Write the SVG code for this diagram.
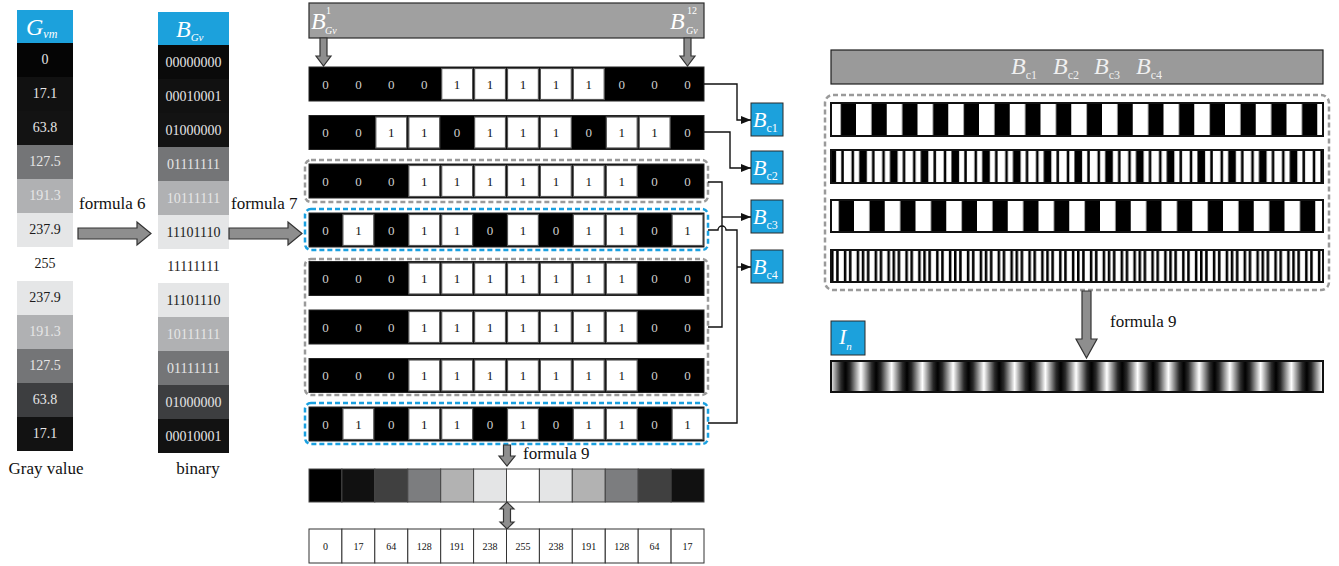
<svg xmlns="http://www.w3.org/2000/svg" width="1339" height="566" viewBox="0 0 1339 566">
<style>
text{font-family:"Liberation Serif","Times New Roman",serif}
.it{font-style:italic}
.cv{font-size:14px;text-anchor:middle}
.lt{fill:#e6e6e6}
.dk{fill:#1a1a1a}
.lbl{font-size:17px;fill:#111}
.bit{font-size:13px;text-anchor:middle}
.z{fill:#cfcfcf}
.o{fill:#111}
.row{fill:#000;stroke:#222;stroke-width:1}
.w{fill:#fff;stroke:#555;stroke-width:1.2}
.blue{fill:#1ca1dc;stroke:#2a2a2a;stroke-width:1}
.garrow{fill:#8e8e8e;stroke:#333;stroke-width:1.2}
.dg{fill:none;stroke:#9a9a9a;stroke-width:2.5;stroke-dasharray:5 3}
.db{fill:none;stroke:#1aa0e0;stroke-width:2.5;stroke-dasharray:5 3}
.conn{fill:none;stroke:#111;stroke-width:1.4}
.num{font-size:10px;text-anchor:middle;fill:#111}
.nc{fill:#fff;stroke:#333;stroke-width:1}
.gc{stroke:#444;stroke-width:1}
</style>
<defs>
<marker id="ah" markerWidth="10" markerHeight="8" refX="10" refY="4" orient="auto" markerUnits="userSpaceOnUse"><path d="M0,0 L10,4 L0,8 z" fill="#111"/></marker>
<pattern id="p1" patternUnits="userSpaceOnUse" x="825.25" y="0" width="30.75" height="566"><rect width="30.75" height="566" fill="#000"/><rect x="0" width="15.5" height="566" fill="#fff"/></pattern>
<pattern id="p3" patternUnits="userSpaceOnUse" x="823.25" y="0" width="30.75" height="566"><rect width="30.75" height="566" fill="#000"/><rect x="0" width="15.5" height="566" fill="#fff"/></pattern>
<pattern id="p2" patternUnits="userSpaceOnUse" x="831" y="0" width="30.75" height="566"><rect width="30.75" height="566" fill="#000"/><rect x="5.125" width="5.125" height="566" fill="#fff"/><rect x="12.81" width="7.69" height="566" fill="#fff"/><rect x="23.06" width="5.125" height="566" fill="#fff"/></pattern>
<pattern id="p4" patternUnits="userSpaceOnUse" x="831" y="0" width="30.75" height="566"><rect width="30.75" height="566" fill="#000"/><rect x="2.56" width="2.56" height="566" fill="#fff"/><rect x="7.69" width="5.125" height="566" fill="#fff"/><rect x="15.375" width="2.56" height="566" fill="#fff"/><rect x="20.5" width="5.125" height="566" fill="#fff"/><rect x="28.19" width="2.56" height="566" fill="#fff"/></pattern>
<linearGradient id="sg" x1="0" x2="1" y1="0" y2="0"><stop offset="0" stop-color="#000"/><stop offset="0.15" stop-color="#2a2a2a"/><stop offset="0.5" stop-color="#fff"/><stop offset="0.85" stop-color="#2a2a2a"/><stop offset="1" stop-color="#000"/></linearGradient>
<pattern id="pg" patternUnits="userSpaceOnUse" x="845.5" y="0" width="30.75" height="566"><rect width="30.75" height="566" fill="url(#sg)"/></pattern>
</defs>

<!-- Column 1: gray values -->
<g id="col-gray">
<rect x="17" y="10" width="56" height="33" fill="#1ca1dc"/>
<text x="26" y="35" class="it" font-size="24" fill="#fff">G<tspan font-size="12" dy="3">vm</tspan></text>
<rect x="17" y="43" width="56" height="34" fill="#050505"/>
<rect x="17" y="77" width="56" height="34" fill="#111"/>
<rect x="17" y="111" width="56" height="34" fill="#131313"/>
<rect x="17" y="145" width="56" height="34" fill="#747577"/>
<rect x="17" y="179" width="56" height="34" fill="#b0b1b3"/>
<rect x="17" y="213" width="56" height="34" fill="#e5e6e7"/>
<rect x="17" y="281" width="56" height="34" fill="#e5e6e7"/>
<rect x="17" y="315" width="56" height="34" fill="#b0b1b3"/>
<rect x="17" y="349" width="56" height="34" fill="#747577"/>
<rect x="17" y="383" width="56" height="34" fill="#3d3e40"/>
<rect x="17" y="417" width="56" height="34" fill="#121212"/>
<text x="45" y="64" class="cv lt">0</text>
<text x="45" y="98" class="cv lt">17.1</text>
<text x="45" y="132" class="cv lt">63.8</text>
<text x="45" y="166" class="cv lt">127.5</text>
<text x="45" y="200" class="cv lt">191.3</text>
<text x="45" y="234" class="cv dk">237.9</text>
<text x="45" y="268" class="cv dk">255</text>
<text x="45" y="302" class="cv dk">237.9</text>
<text x="45" y="336" class="cv lt">191.3</text>
<text x="45" y="370" class="cv lt">127.5</text>
<text x="45" y="404" class="cv lt">63.8</text>
<text x="45" y="438" class="cv lt">17.1</text>
<text x="46" y="474" class="lbl" text-anchor="middle">Gray value</text>
</g>

<!-- Column 2: binary -->
<g id="col-binary">
<rect x="158" y="12" width="71" height="33" fill="#1ca1dc"/>
<text x="176" y="37" class="it" font-size="24" fill="#fff">B<tspan font-size="11" dy="4">Gv</tspan></text>
<rect x="158" y="45" width="71" height="34" fill="#0a0a0a"/>
<rect x="158" y="79" width="71" height="34" fill="#111"/>
<rect x="158" y="113" width="71" height="34" fill="#131313"/>
<rect x="158" y="147" width="71" height="34" fill="#747577"/>
<rect x="158" y="181" width="71" height="34" fill="#b0b1b3"/>
<rect x="158" y="215" width="71" height="34" fill="#e5e6e7"/>
<rect x="158" y="283" width="71" height="34" fill="#e5e6e7"/>
<rect x="158" y="317" width="71" height="34" fill="#b0b1b3"/>
<rect x="158" y="351" width="71" height="34" fill="#747577"/>
<rect x="158" y="385" width="71" height="34" fill="#3d3e40"/>
<rect x="158" y="419" width="71" height="34" fill="#121212"/>
<text x="193.5" y="67" class="cv lt">00000000</text>
<text x="193.5" y="101" class="cv lt">00010001</text>
<text x="193.5" y="135" class="cv lt">01000000</text>
<text x="193.5" y="169" class="cv lt">01111111</text>
<text x="193.5" y="203" class="cv lt">10111111</text>
<text x="193.5" y="237" class="cv dk">11101110</text>
<text x="193.5" y="271" class="cv dk">11111111</text>
<text x="193.5" y="305" class="cv dk">11101110</text>
<text x="193.5" y="339" class="cv lt">10111111</text>
<text x="193.5" y="373" class="cv lt">01111111</text>
<text x="193.5" y="407" class="cv lt">01000000</text>
<text x="193.5" y="441" class="cv lt">00010001</text>
<text x="198" y="474" class="lbl" text-anchor="middle">binary</text>
</g>

<!-- formula arrows -->
<g id="formula6">
<text x="79" y="209" class="lbl">formula 6</text>
<polygon class="garrow" points="78,228 137,228 137,222 151,233.5 137,245 137,239 78,239"/>
</g>
<g id="formula7">
<text x="231" y="209" class="lbl">formula 7</text>
<polygon class="garrow" points="229,228 288,228 288,222 302,233.5 288,245 288,239 229,239"/>
</g>

<!-- top BGv bar -->
<g id="bgv-bar">
<rect x="309" y="3" width="395" height="35" fill="#a0a0a0" stroke="#2a2a2a" stroke-width="1.2"/>
<text x="311" y="29" class="it" font-size="24" fill="#fff">B</text>
<text x="326" y="14" font-size="10" fill="#fff">1</text>
<text x="325" y="34" class="it" font-size="10" fill="#fff">Gv</text>
<text x="670" y="29" class="it" font-size="24" fill="#fff">B</text>
<text x="687" y="14" font-size="10" fill="#fff">12</text>
<text x="686" y="34" class="it" font-size="10" fill="#fff">Gv</text>
<polygon class="garrow" points="320,38 327,38 327,56 331,56 323.5,66 316,56 320,56"/>
<polygon class="garrow" points="684,38 691,38 691,56 695,56 687.5,66 680,56 684,56"/>
</g>

<!-- Bit rows -->
<g id="row1">
<rect class="row" x="309" y="67" width="395" height="34"/>
<rect class="w" x="441.7" y="68.5" width="30.9" height="31"/><rect class="w" x="474.6" y="68.5" width="30.9" height="31"/><rect class="w" x="507.5" y="68.5" width="30.9" height="31"/><rect class="w" x="540.4" y="68.5" width="30.9" height="31"/><rect class="w" x="573.3" y="68.5" width="30.9" height="31"/>
<text class="bit z" x="325.5" y="88.5">0</text><text class="bit z" x="358.4" y="88.5">0</text><text class="bit z" x="391.3" y="88.5">0</text><text class="bit z" x="424.2" y="88.5">0</text><text class="bit o" x="457.1" y="88.5">1</text><text class="bit o" x="490" y="88.5">1</text><text class="bit o" x="523" y="88.5">1</text><text class="bit o" x="555.9" y="88.5">1</text><text class="bit o" x="588.8" y="88.5">1</text><text class="bit z" x="621.7" y="88.5">0</text><text class="bit z" x="654.6" y="88.5">0</text><text class="bit z" x="687.5" y="88.5">0</text>
</g>
<g id="row2">
<rect class="row" x="309" y="115.5" width="395" height="34"/>
<rect class="w" x="375.8" y="117" width="30.9" height="31"/><rect class="w" x="408.8" y="117" width="30.9" height="31"/><rect class="w" x="474.6" y="117" width="30.9" height="31"/><rect class="w" x="507.5" y="117" width="30.9" height="31"/><rect class="w" x="540.4" y="117" width="30.9" height="31"/><rect class="w" x="606.3" y="117" width="30.9" height="31"/><rect class="w" x="639.2" y="117" width="30.9" height="31"/>
<text class="bit z" x="325.5" y="137">0</text><text class="bit z" x="358.4" y="137">0</text><text class="bit o" x="391.3" y="137">1</text><text class="bit o" x="424.2" y="137">1</text><text class="bit z" x="457.1" y="137">0</text><text class="bit o" x="490" y="137">1</text><text class="bit o" x="523" y="137">1</text><text class="bit o" x="555.9" y="137">1</text><text class="bit z" x="588.8" y="137">0</text><text class="bit o" x="621.7" y="137">1</text><text class="bit o" x="654.6" y="137">1</text><text class="bit z" x="687.5" y="137">0</text>
</g>
<g id="row3">
<rect class="row" x="309" y="164" width="395" height="34"/>
<rect class="w" x="408.8" y="165.5" width="30.9" height="31"/><rect class="w" x="441.7" y="165.5" width="30.9" height="31"/><rect class="w" x="474.6" y="165.5" width="30.9" height="31"/><rect class="w" x="507.5" y="165.5" width="30.9" height="31"/><rect class="w" x="540.4" y="165.5" width="30.9" height="31"/><rect class="w" x="573.3" y="165.5" width="30.9" height="31"/><rect class="w" x="606.3" y="165.5" width="30.9" height="31"/>
<text class="bit z" x="325.5" y="185.5">0</text><text class="bit z" x="358.4" y="185.5">0</text><text class="bit z" x="391.3" y="185.5">0</text><text class="bit o" x="424.2" y="185.5">1</text><text class="bit o" x="457.1" y="185.5">1</text><text class="bit o" x="490" y="185.5">1</text><text class="bit o" x="523" y="185.5">1</text><text class="bit o" x="555.9" y="185.5">1</text><text class="bit o" x="588.8" y="185.5">1</text><text class="bit o" x="621.7" y="185.5">1</text><text class="bit z" x="654.6" y="185.5">0</text><text class="bit z" x="687.5" y="185.5">0</text>
</g>
<g id="row4">
<rect class="row" x="309" y="213" width="395" height="34"/>
<rect class="w" x="342.9" y="214.5" width="30.9" height="31"/><rect class="w" x="408.8" y="214.5" width="30.9" height="31"/><rect class="w" x="441.7" y="214.5" width="30.9" height="31"/><rect class="w" x="507.5" y="214.5" width="30.9" height="31"/><rect class="w" x="573.3" y="214.5" width="30.9" height="31"/><rect class="w" x="606.3" y="214.5" width="30.9" height="31"/><rect class="w" x="672.1" y="214.5" width="30.9" height="31"/>
<text class="bit z" x="325.5" y="234.5">0</text><text class="bit o" x="358.4" y="234.5">1</text><text class="bit z" x="391.3" y="234.5">0</text><text class="bit o" x="424.2" y="234.5">1</text><text class="bit o" x="457.1" y="234.5">1</text><text class="bit z" x="490" y="234.5">0</text><text class="bit o" x="523" y="234.5">1</text><text class="bit z" x="555.9" y="234.5">0</text><text class="bit o" x="588.8" y="234.5">1</text><text class="bit o" x="621.7" y="234.5">1</text><text class="bit z" x="654.6" y="234.5">0</text><text class="bit o" x="687.5" y="234.5">1</text>
</g>
<g id="row5">
<rect class="row" x="309" y="261.5" width="395" height="34"/>
<rect class="w" x="408.8" y="263" width="30.9" height="31"/><rect class="w" x="441.7" y="263" width="30.9" height="31"/><rect class="w" x="474.6" y="263" width="30.9" height="31"/><rect class="w" x="507.5" y="263" width="30.9" height="31"/><rect class="w" x="540.4" y="263" width="30.9" height="31"/><rect class="w" x="573.3" y="263" width="30.9" height="31"/><rect class="w" x="606.3" y="263" width="30.9" height="31"/>
<text class="bit z" x="325.5" y="283">0</text><text class="bit z" x="358.4" y="283">0</text><text class="bit z" x="391.3" y="283">0</text><text class="bit o" x="424.2" y="283">1</text><text class="bit o" x="457.1" y="283">1</text><text class="bit o" x="490" y="283">1</text><text class="bit o" x="523" y="283">1</text><text class="bit o" x="555.9" y="283">1</text><text class="bit o" x="588.8" y="283">1</text><text class="bit o" x="621.7" y="283">1</text><text class="bit z" x="654.6" y="283">0</text><text class="bit z" x="687.5" y="283">0</text>
</g>
<g id="row6">
<rect class="row" x="309" y="310" width="395" height="34"/>
<rect class="w" x="408.8" y="311.5" width="30.9" height="31"/><rect class="w" x="441.7" y="311.5" width="30.9" height="31"/><rect class="w" x="474.6" y="311.5" width="30.9" height="31"/><rect class="w" x="507.5" y="311.5" width="30.9" height="31"/><rect class="w" x="540.4" y="311.5" width="30.9" height="31"/><rect class="w" x="573.3" y="311.5" width="30.9" height="31"/><rect class="w" x="606.3" y="311.5" width="30.9" height="31"/>
<text class="bit z" x="325.5" y="331.5">0</text><text class="bit z" x="358.4" y="331.5">0</text><text class="bit z" x="391.3" y="331.5">0</text><text class="bit o" x="424.2" y="331.5">1</text><text class="bit o" x="457.1" y="331.5">1</text><text class="bit o" x="490" y="331.5">1</text><text class="bit o" x="523" y="331.5">1</text><text class="bit o" x="555.9" y="331.5">1</text><text class="bit o" x="588.8" y="331.5">1</text><text class="bit o" x="621.7" y="331.5">1</text><text class="bit z" x="654.6" y="331.5">0</text><text class="bit z" x="687.5" y="331.5">0</text>
</g>
<g id="row7">
<rect class="row" x="309" y="358.5" width="395" height="34"/>
<rect class="w" x="408.8" y="360" width="30.9" height="31"/><rect class="w" x="441.7" y="360" width="30.9" height="31"/><rect class="w" x="474.6" y="360" width="30.9" height="31"/><rect class="w" x="507.5" y="360" width="30.9" height="31"/><rect class="w" x="540.4" y="360" width="30.9" height="31"/><rect class="w" x="573.3" y="360" width="30.9" height="31"/><rect class="w" x="606.3" y="360" width="30.9" height="31"/>
<text class="bit z" x="325.5" y="380">0</text><text class="bit z" x="358.4" y="380">0</text><text class="bit z" x="391.3" y="380">0</text><text class="bit o" x="424.2" y="380">1</text><text class="bit o" x="457.1" y="380">1</text><text class="bit o" x="490" y="380">1</text><text class="bit o" x="523" y="380">1</text><text class="bit o" x="555.9" y="380">1</text><text class="bit o" x="588.8" y="380">1</text><text class="bit o" x="621.7" y="380">1</text><text class="bit z" x="654.6" y="380">0</text><text class="bit z" x="687.5" y="380">0</text>
</g>
<g id="row8">
<rect class="row" x="309" y="407" width="395" height="34"/>
<rect class="w" x="342.9" y="408.5" width="30.9" height="31"/><rect class="w" x="408.8" y="408.5" width="30.9" height="31"/><rect class="w" x="441.7" y="408.5" width="30.9" height="31"/><rect class="w" x="507.5" y="408.5" width="30.9" height="31"/><rect class="w" x="573.3" y="408.5" width="30.9" height="31"/><rect class="w" x="606.3" y="408.5" width="30.9" height="31"/><rect class="w" x="672.1" y="408.5" width="30.9" height="31"/>
<text class="bit z" x="325.5" y="428.5">0</text><text class="bit o" x="358.4" y="428.5">1</text><text class="bit z" x="391.3" y="428.5">0</text><text class="bit o" x="424.2" y="428.5">1</text><text class="bit o" x="457.1" y="428.5">1</text><text class="bit z" x="490" y="428.5">0</text><text class="bit o" x="523" y="428.5">1</text><text class="bit z" x="555.9" y="428.5">0</text><text class="bit o" x="588.8" y="428.5">1</text><text class="bit o" x="621.7" y="428.5">1</text><text class="bit z" x="654.6" y="428.5">0</text><text class="bit o" x="687.5" y="428.5">1</text>
</g>

<!-- dashed grouping boxes -->
<g id="groups">
<rect class="dg" x="305" y="160" width="403" height="42" rx="6"/>
<rect class="db" x="305" y="209" width="403" height="41" rx="6"/>
<rect class="dg" x="305" y="259" width="403" height="136" rx="6"/>
<rect class="db" x="305" y="403" width="403" height="41" rx="6"/>
</g>

<!-- Bc boxes -->
<g id="bc1"><rect class="blue" x="751" y="103" width="32" height="33"/><text x="753" y="127" class="it" font-size="22" fill="#fff">B<tspan font-style="normal" font-size="12" dy="5">c1</tspan></text></g>
<g id="bc2"><rect class="blue" x="751" y="151" width="32" height="33"/><text x="753" y="175" class="it" font-size="22" fill="#fff">B<tspan font-style="normal" font-size="12" dy="5">c2</tspan></text></g>
<g id="bc3"><rect class="blue" x="751" y="200" width="32" height="33"/><text x="753" y="224" class="it" font-size="22" fill="#fff">B<tspan font-style="normal" font-size="12" dy="5">c3</tspan></text></g>
<g id="bc4"><rect class="blue" x="751" y="250" width="32" height="33"/><text x="753" y="274" class="it" font-size="22" fill="#fff">B<tspan font-style="normal" font-size="12" dy="5">c4</tspan></text></g>

<!-- connectors -->
<g id="connectors">
<path class="conn" d="M704,84 H737 V120 H751" marker-end="url(#ah)"/>
<path class="conn" d="M704,132 H730 V168 H751" marker-end="url(#ah)"/>
<path class="conn" d="M708,182 H722 V327 H708"/>
<path class="conn" d="M722,217 H751" marker-end="url(#ah)"/>
<path class="conn" d="M708,230 H718 A4,4 0 0 1 726,230 H737 V423 H708"/>
<path class="conn" d="M737,267 H751" marker-end="url(#ah)"/>
</g>

<!-- formula 9 and gray result -->
<g id="formula9-mid">
<polygon class="garrow" points="503.5,445 510.5,445 510.5,456 515,456 507,466 499,456 503.5,456"/>
<text x="523" y="459" class="lbl">formula 9</text>
</g>
<g id="gray-row">
<rect class="gc" x="309" y="469" width="32.9" height="33" fill="#000"/>
<rect class="gc" x="341.9" y="469" width="32.9" height="33" fill="#111"/>
<rect class="gc" x="374.8" y="469" width="32.9" height="33" fill="#404040"/>
<rect class="gc" x="407.8" y="469" width="32.9" height="33" fill="#7c7d7f"/>
<rect class="gc" x="440.7" y="469" width="32.9" height="33" fill="#b2b2b2"/>
<rect class="gc" x="473.6" y="469" width="32.9" height="33" fill="#e4e5e6"/>
<rect class="gc" x="506.5" y="469" width="32.9" height="33" fill="#fff"/>
<rect class="gc" x="539.4" y="469" width="32.9" height="33" fill="#e4e5e6"/>
<rect class="gc" x="572.3" y="469" width="32.9" height="33" fill="#b2b2b2"/>
<rect class="gc" x="605.3" y="469" width="32.9" height="33" fill="#7c7d7f"/>
<rect class="gc" x="638.2" y="469" width="32.9" height="33" fill="#404040"/>
<rect class="gc" x="671.1" y="469" width="32.9" height="33" fill="#111"/>
</g>
<g id="double-arrow">
<polygon class="garrow" points="507,502 514,509 510.5,509 510.5,522 514,522 507,529 500,522 503.5,522 503.5,509 500,509"/>
</g>
<g id="value-row">
<rect class="nc" x="309" y="529" width="32.9" height="34"/><rect class="nc" x="341.9" y="529" width="32.9" height="34"/><rect class="nc" x="374.8" y="529" width="32.9" height="34"/><rect class="nc" x="407.8" y="529" width="32.9" height="34"/><rect class="nc" x="440.7" y="529" width="32.9" height="34"/><rect class="nc" x="473.6" y="529" width="32.9" height="34"/><rect class="nc" x="506.5" y="529" width="32.9" height="34"/><rect class="nc" x="539.4" y="529" width="32.9" height="34"/><rect class="nc" x="572.3" y="529" width="32.9" height="34"/><rect class="nc" x="605.3" y="529" width="32.9" height="34"/><rect class="nc" x="638.2" y="529" width="32.9" height="34"/><rect class="nc" x="671.1" y="529" width="32.9" height="34"/>
<text class="num" x="325.5" y="550">0</text><text class="num" x="358.4" y="550">17</text><text class="num" x="391.3" y="550">64</text><text class="num" x="424.2" y="550">128</text><text class="num" x="457.1" y="550">191</text><text class="num" x="490" y="550">238</text><text class="num" x="523" y="550">255</text><text class="num" x="555.9" y="550">238</text><text class="num" x="588.8" y="550">191</text><text class="num" x="621.7" y="550">128</text><text class="num" x="654.6" y="550">64</text><text class="num" x="687.5" y="550">17</text>
</g>

<!-- Right section -->
<g id="bc-bar">
<rect x="831" y="50" width="492" height="34" fill="#9a9a9a" stroke="#1e1e1e" stroke-width="1.2"/>
<text x="1011" y="74" class="it" font-size="24" fill="#f0f0f0">B<tspan font-style="normal" font-size="12" dy="5">c1</tspan></text>
<text x="1053" y="74" class="it" font-size="24" fill="#f0f0f0">B<tspan font-style="normal" font-size="12" dy="5">c2</tspan></text>
<text x="1094" y="74" class="it" font-size="24" fill="#f0f0f0">B<tspan font-style="normal" font-size="12" dy="5">c3</tspan></text>
<text x="1136" y="74" class="it" font-size="24" fill="#f0f0f0">B<tspan font-style="normal" font-size="12" dy="5">c4</tspan></text>
</g>
<g id="stripes">
<rect class="dg" x="825" y="95" width="504" height="195" rx="8"/>
<rect x="831" y="103" width="492" height="33" fill="url(#p1)" stroke="#111" stroke-width="2"/>
<rect x="831" y="150" width="492" height="33" fill="url(#p2)" stroke="#111" stroke-width="2"/>
<rect x="831" y="200" width="492" height="32" fill="url(#p3)" stroke="#111" stroke-width="2"/>
<rect x="831" y="250" width="492" height="32" fill="url(#p4)" stroke="#111" stroke-width="2"/>
</g>
<g id="formula9-right">
<polygon class="garrow" points="1082,291 1091,291 1091,339 1097,339 1086.5,358 1076,339 1082,339"/>
<text x="1110" y="327" class="lbl">formula 9</text>
</g>
<g id="in-label">
<rect class="blue" x="831" y="321" width="34" height="34"/>
<text x="839" y="344" class="it" font-size="22" fill="#fff">I<tspan font-size="11" dy="6">n</tspan></text>
</g>
<g id="fringe">
<rect x="831" y="361" width="492" height="31" fill="url(#pg)" stroke="#111" stroke-width="2"/>
</g>
</svg>
